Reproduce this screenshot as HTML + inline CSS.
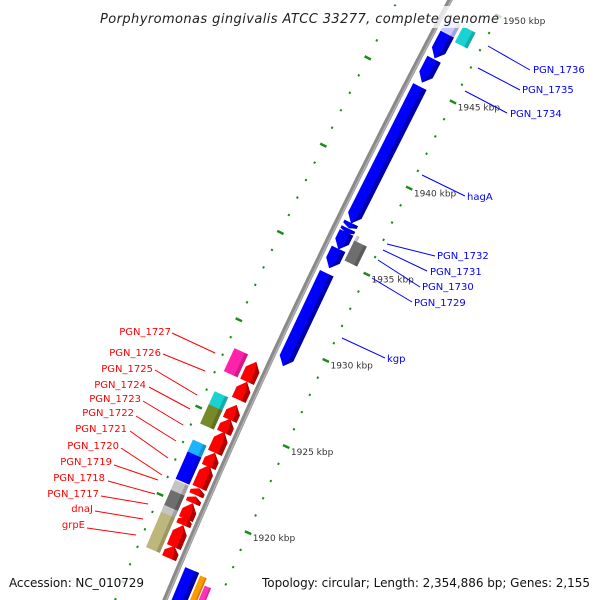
<!DOCTYPE html>
<html><head><meta charset="utf-8"><style>
html,body{margin:0;padding:0;background:#fff;width:600px;height:600px;overflow:hidden;}
svg{display:block;overflow:hidden;}
text{font-family:"DejaVu Sans","Liberation Sans",sans-serif;}
</style></head><body>
<svg id="map" width="600" height="600" viewBox="0 0 600 600" xmlns="http://www.w3.org/2000/svg">
<g id="ticks"></g>
<path id="backbone" fill="none" stroke="#8a8a8a" stroke-width="5"/>
<path id="backbone-hi" fill="none" stroke="#b0b0b0" stroke-width="1.5"/>
<g id="features"></g>
<g id="labels" font-size="10">
<g fill="#0000ff" stroke="#0000ff" stroke-width="1">
<line x1="488" y1="46" x2="530" y2="70"/><text x="533" y="73" stroke="none">PGN_1736</text>
<line x1="478" y1="68" x2="520" y2="90"/><text x="522" y="93" stroke="none">PGN_1735</text>
<line x1="465" y1="91" x2="507" y2="113"/><text x="510" y="117" stroke="none">PGN_1734</text>
<line x1="422" y1="175" x2="465" y2="196"/><text x="467" y="200" stroke="none">hagA</text>
<line x1="387" y1="244" x2="435" y2="256"/><text x="437" y="259" stroke="none">PGN_1732</text>
<line x1="383" y1="250" x2="427" y2="271"/><text x="430" y="275" stroke="none">PGN_1731</text>
<line x1="378" y1="260" x2="420" y2="287"/><text x="422" y="290" stroke="none">PGN_1730</text>
<line x1="372" y1="278" x2="412" y2="302"/><text x="414" y="306" stroke="none">PGN_1729</text>
<line x1="342" y1="338" x2="385" y2="358"/><text x="387" y="362" stroke="none">kgp</text>
</g>
<g fill="#ff0000" stroke="#ff0000" stroke-width="1" text-anchor="end">
<line x1="172" y1="333" x2="215" y2="353"/><text x="171" y="335" stroke="none">PGN_1727</text>
<line x1="163" y1="354" x2="205" y2="371"/><text x="161" y="356" stroke="none">PGN_1726</text>
<line x1="155" y1="370" x2="197" y2="395"/><text x="153" y="372" stroke="none">PGN_1725</text>
<line x1="149" y1="387" x2="190" y2="409"/><text x="146" y="388" stroke="none">PGN_1724</text>
<line x1="143" y1="401" x2="183" y2="425"/><text x="141" y="402" stroke="none">PGN_1723</text>
<line x1="136" y1="416" x2="176" y2="441"/><text x="134" y="416" stroke="none">PGN_1722</text>
<line x1="130" y1="431" x2="168" y2="458"/><text x="127" y="432" stroke="none">PGN_1721</text>
<line x1="121" y1="448" x2="162" y2="475"/><text x="119" y="449" stroke="none">PGN_1720</text>
<line x1="114" y1="465" x2="158" y2="480"/><text x="112" y="465" stroke="none">PGN_1719</text>
<line x1="108" y1="481" x2="155" y2="494"/><text x="105" y="481" stroke="none">PGN_1718</text>
<line x1="101" y1="496" x2="148" y2="504"/><text x="99" y="497" stroke="none">PGN_1717</text>
<line x1="95" y1="511" x2="143" y2="519"/><text x="93" y="512" stroke="none">dnaJ</text>
<line x1="87" y1="528" x2="136" y2="535"/><text x="85" y="528" stroke="none">grpE</text>
</g>
</g>
<rect x="96" y="6" width="406" height="22" fill="#fff" opacity="0.75"/>
<text x="100" y="23" font-size="13" font-style="italic" fill="#222" textLength="399">Porphyromonas gingivalis ATCC 33277, complete genome</text>
<rect x="4" y="572" width="146" height="20" fill="#fff" opacity="0.8"/>
<text x="9" y="587" font-size="12" fill="#111" textLength="135">Accession: NC_010729</text>
<rect x="257" y="572" width="340" height="20" fill="#fff" opacity="0.8"/>
<text x="262" y="587" font-size="12" fill="#111" textLength="328">Topology: circular; Length: 2,354,886 bp; Genes: 2,155</text>
</svg>
<script>
// kbp ranges
const majorTicks = [1915, 1920, 1925, 1930, 1935, 1940, 1945, 1950];
const tickLabels = ["1915 kbp","1920 kbp","1925 kbp","1930 kbp","1935 kbp","1940 kbp","1945 kbp","1950 kbp"];
const tickStart = 1912, tickEnd = 1952;
// reverse strand (blue row, pointing to lower kbp)
const blueStarts = [1946.55, 1945.15, 1937.02, 1934.43, 1935.52, 1928.78, 1913.5];
const blueEnds   = [1947.95, 1946.50, 1944.92, 1935.55, 1936.50, 1934.14, 1917.0];
const blueArrow  = [1, 1, 1, 1, 1, 1, 0];
const chevronStarts = [1936.45, 1936.75];
const chevronEnds   = [1936.72, 1937.05];
// forward strand (red row, pointing to higher kbp)
const redStarts = [1927.25, 1926.21, 1925.06, 1924.31, 1923.16, 1922.35, 1921.14, 1920.27, 1919.35, 1919.0, 1917.74, 1917.1, 1920.72];
const redEnds   = [1928.40, 1927.25, 1925.92, 1925.12, 1924.37, 1923.16, 1922.46, 1920.65, 1920.27, 1919.47, 1919.0, 1917.8, 1921.12];
// other features
const otherStarts = [1947.77, 1936.3, 1935.14, 1913.5, 1913.5, 1947.97, 1927.25, 1925.1, 1924.25, 1922.46, 1921.08, 1920.22, 1919.35, 1919.0, 1917.74, 1917.16];
const otherEnds   = [1948.69, 1936.58, 1936.3, 1916.9, 1916.5, 1948.72, 1928.57, 1926.1, 1925.35, 1923.33, 1922.64, 1921.02, 1920.45, 1919.58, 1919.18, 1917.9];
const otherRows   = ["r2","r2t","r2","r2a","r2b","r1","l2","l2","l2","l2","l2","l2","l2","l2","l2","l2"];
const otherColors = ["#1ad2d2","#c8c8c8","#6e6e6e","#ff9900","#ff33bb","#c8c8ff","#ff22aa","#1ad2d2","#778a2a","#1ab4ff","#0000ff","#c4c4c4","#6e6e6e","#c4c4c4","#bdb77c","#bdb77c"];

const rows = {r1:[6,21], r2:[24,38], r2t:[24,27], r2a:[23,30], r2b:[31,38], l1:[-20,-5], l2:[-38,-23]};
const B=-0.5317, C=9.44e-5;
function ybOf(k){ return 426 - (k-1925)*17.35; }
function P(k,d){
  const yb=ybOf(k), xb=450+B*yb+C*yb*yb, s=B+2*C*yb, n=Math.sqrt(1+s*s);
  return [xb+d/n, yb-s*d/n];
}
const NS="http://www.w3.org/2000/svg";
function poly(g,pts,fill){
  const p=document.createElementNS(NS,"polygon");
  p.setAttribute("points",pts.map(q=>q[0].toFixed(1)+","+q[1].toFixed(1)).join(" "));
  p.setAttribute("fill",fill);
  g.appendChild(p); return p;
}
function shade(c){
  const m={"#0000ff":"#0000a8","#ff0000":"#b00000"};return m[c]||c;
}
// backbone
let dpath="", hpath="";
for(let k=tickStart;k<=tickEnd;k+=0.5){
  const q=P(k,0), h=P(k,1.2);
  dpath+=(dpath?"L":"M")+q[0].toFixed(1)+","+q[1].toFixed(1);
  hpath+=(hpath?"L":"M")+h[0].toFixed(1)+","+h[1].toFixed(1);
}
document.getElementById("backbone").setAttribute("d",dpath);
document.getElementById("backbone-hi").setAttribute("d",hpath);
// ticks
const tg=document.getElementById("ticks");
for(let k=tickStart;k<=tickEnd;k++){
  const major=majorTicks.indexOf(k)>=0;
  [[50,major?3.5:1],[-46,major?3.5:1]].forEach(([d,h])=>{
    const a=P(k,d-h),b=P(k,d+h);
    const l=document.createElementNS(NS,"line");
    
    
    l.setAttribute("x1",a[0]);l.setAttribute("y1",a[1]);l.setAttribute("x2",b[0]);l.setAttribute("y2",b[1]);
    l.setAttribute("stroke","#1c8a1c");l.setAttribute("stroke-width",major?2.5:2.2);
    tg.appendChild(l);
  });
}
majorTicks.forEach((k,i)=>{
  const q=P(k,53);
  const t=document.createElementNS(NS,"text");
  
  
  t.setAttribute("x",q[0]+2);t.setAttribute("y",q[1]+7);t.setAttribute("font-size","9");t.setAttribute("fill","#333");
  t.textContent=tickLabels[i];tg.appendChild(t);
});
const fg=document.getElementById("features");
function arrow(k0,k1,row,color,dir,hasHead){
  const [d0,d1]=rows[row];const dm=(d0+d1)/2;
  const len=Math.abs(k1-k0);
  let head=hasHead?Math.min(0.45,len*0.5):0;
  const g=document.createElementNS(NS,"g");
  
  
  let pts;
  if(dir<0){ pts=[P(k1,d0),P(k0+head,d0),P(k0,dm),P(k0+head,d1),P(k1,d1)]; }
  else { pts=[P(k0,d0),P(k1-head,d0),P(k1,dm),P(k1-head,d1),P(k0,d1)]; }
  poly(g,pts,color);
  const ds=d1-(d1-d0)*0.3;
  let sp;
  if(dir<0) sp=[P(k1,ds),P(k0+head,ds),P(k0,dm),P(k0+head,d1),P(k1,d1)];
  else sp=[P(k0,ds),P(k1-head,ds),P(k1,dm),P(k1-head,d1),P(k0,d1)];
  poly(g,sp,shade(color));
  fg.appendChild(g);
}
blueStarts.forEach((s,i)=>arrow(s,blueEnds[i],"r1","#0000ff",-1,blueArrow[i]));
chevronStarts.forEach((s,i)=>arrow(s,chevronEnds[i],"r1","#0000ff",-1,1));
redStarts.forEach((s,i)=>arrow(s,redEnds[i],"l1","#ff0000",1,1));
otherStarts.forEach((s,i)=>{
  const [d0,d1]=rows[otherRows[i]];const e=otherEnds[i];
  const g=document.createElementNS(NS,"g");
  
  
  poly(g,[P(s,d0),P(e,d0),P(e,d1),P(s,d1)],otherColors[i]);
  const ds=d1-(d1-d0)*0.25;
  const p=poly(g,[P(s,ds),P(e,ds),P(e,d1),P(s,d1)],"#000");p.setAttribute("opacity","0.18");
  fg.appendChild(g);
});
</script>
</body></html>
